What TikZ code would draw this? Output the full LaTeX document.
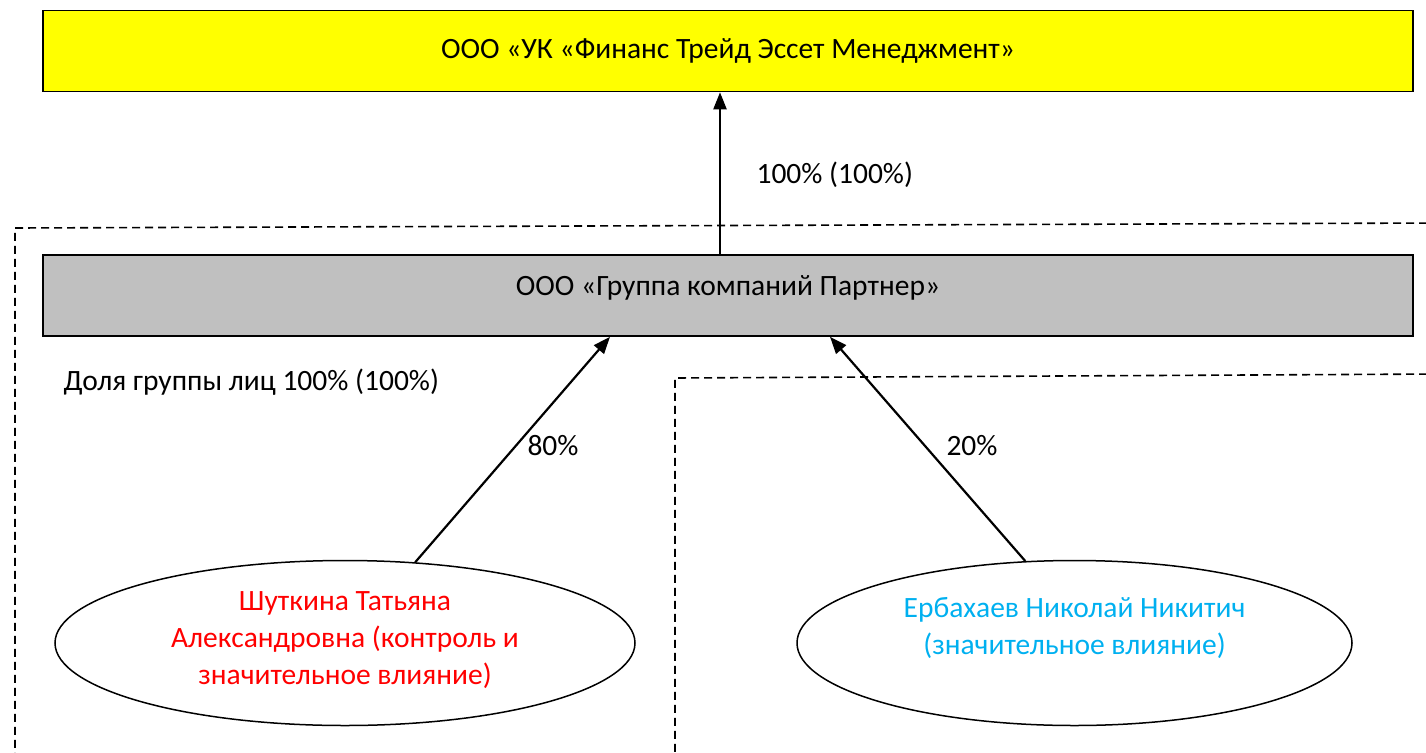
\documentclass[tikz,border=0pt]{standalone}
\usepackage{fontspec}
\setmainfont{Carlito}
\usetikzlibrary{shapes.geometric, arrows.meta, positioning}
\definecolor{ukyellow}{HTML}{FFFF00}
\definecolor{grpgray}{HTML}{C0C0C0}
\definecolor{ctrlred}{HTML}{FF0000}
\definecolor{inflblue}{HTML}{00B0F0}
\tikzset{
	firm/.style={draw, line width=1.6pt, minimum width=1370pt, minimum height=81pt, inner sep=0pt},
	person/.style={ellipse, draw, line width=1.5pt, minimum height=165pt, inner sep=0pt},
	share/.style={-{Triangle[length=17pt,width=13pt]}, line width=2.2pt},
	grouping/.style={dash pattern=on 8pt off 5pt, line width=1.6pt},
}

\begin{document}
\begin{tikzpicture}[x=1pt, y=-1pt, font=\fontsize{29.5}{37}\selectfont]
		\useasboundingbox (0,0) rectangle (1426,752);
		% group borders
		\draw[grouping] (1440,223) -- (15,228) -- (15,770);
		\draw[grouping] (1440,374) -- (675,378) -- (675,770);
		% companies
		\node[firm, fill=ukyellow] (uk) at (728,51) {ООО «УК «Финанс Трейд Эссет Менеджмент»};
		\node[firm, fill=grpgray, label={[yshift=8pt]center:ООО «Группа компаний Партнер»}] (grp) at (728,295.5) {};
		% persons
		\node[person, minimum width=580pt, label={[yshift=3pt, align=center, text=ctrlred]center:Шуткина Татьяна\\Александровна (контроль и\\значительное влияние)}] (shut) at (345,643) {};
		\node[person, minimum width=555pt, label={[yshift=15pt, align=center, text=inflblue]center:Ербахаев Николай Никитич\\(значительное влияние)}] (erb) at (1074.5,643) {};
		% shares
		\draw[share] ([xshift=-8pt]grp.north) -- ([xshift=-8pt]uk.south);
		\draw[share] (shut.49) -- ([xshift=-118pt]grp.south);
		\draw[share] (erb.121.5) -- ([xshift=102pt]grp.south);
		\node[anchor=west] (s100) at (753,175) {100\% (100\%)};
		\node[anchor=west] (sgrp) at (60,382) {Доля группы лиц 100\% (100\%)};
		\node (s80) at (553,446) {80\%};
		\node (s20) at (972,446) {20\%};
		\end{tikzpicture}
\end{document}
